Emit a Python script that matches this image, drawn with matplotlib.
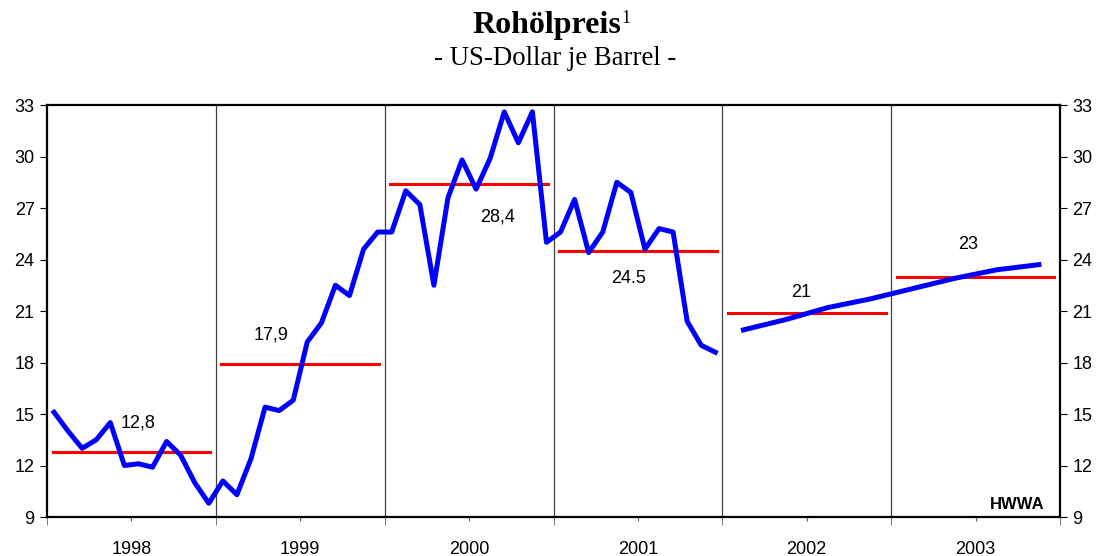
import numpy as np
import matplotlib
matplotlib.use("Agg")
import matplotlib.pyplot as plt

# monthly crude oil price, USD per barrel
years = ["1998", "1999", "2000", "2001", "2002", "2003"]
oil_1998 = [15.1, 14.0, 13.0, 13.5, 14.5, 12.0, 12.1, 11.9, 13.4, 12.6, 11.0, 9.8]
oil_1999 = [11.1, 10.3, 12.4, 15.4, 15.2, 15.8, 19.2, 20.3, 22.5, 21.9, 24.6, 25.6]
oil_2000 = [25.6, 28.0, 27.2, 22.5, 27.6, 29.8, 28.1, 29.9, 32.6, 30.8, 32.6, 25.0]
oil_2001 = [25.6, 27.5, 24.4, 25.6, 28.5, 27.9, 24.6, 25.8, 25.6, 20.4, 19.0, 18.6]
# forecast, one point per quarter (mid-quarter month), 2002-2003
forecast_month = [49, 52, 55, 58, 61, 64, 67, 70]
forecast = [19.9, 20.5, 21.2, 21.7, 22.3, 22.9, 23.4, 23.7]

# yearly averages
avg_values = [12.8, 17.9, 28.4, 24.5, 20.9, 23.0]
avg_labels = ["12,8", "17,9", "28,4", "24.5", "21", "23"]
label_pos = [(6.5, 14.5), (15.9, 19.6), (32.0, 26.5), (41.3, 22.9), (53.6, 22.1), (65.5, 24.9)]

plt.rcParams['font.family'] = ['Liberation Sans', 'DejaVu Sans']

fig = plt.figure(figsize=(11.01, 5.56), dpi=100)
ax = fig.add_axes([47 / 1101, 39 / 556, 1013 / 1101, 412 / 556])

hist = oil_1998 + oil_1999 + oil_2000 + oil_2001
xm = np.arange(len(hist)) + 0.5
ax.plot(xm, hist, color='#0000FF', lw=3.6, zorder=3)
ax.plot(np.array(forecast_month) + 0.5, forecast, color='#0000FF', lw=3.6, zorder=3)

for i, v in enumerate(avg_values):
    ax.plot([i * 12 + 0.4, i * 12 + 11.6], [v, v], color='#FF0000', lw=2.2, zorder=2)
    ax.text(label_pos[i][0], label_pos[i][1], avg_labels[i], fontsize=13,
            ha='center', va='center')

for b in range(12, 72, 12):
    ax.axvline(b, color='#404040', lw=0.9, zorder=1)

ax.set_xlim(0, 72)
ax.set_ylim(9, 33)
ax.set_yticks(range(9, 34, 3))
ax.set_xticks(np.arange(6, 72, 12))
ax.set_xticklabels(years)
ax.set_xticks(range(0, 73, 12), minor=True)
ax.tick_params(axis='x', which='major', length=3, color='#606060', labelsize=13, pad=14)
ax.tick_params(axis='x', which='minor', length=6, color='#606060')
ax.tick_params(axis='y', length=5, labelsize=13, left=True, right=True,
               labelleft=True, labelright=True, pad=4)
for s in ax.spines.values():
    s.set_linewidth(1.6)

ax.text(0.985, 0.012, "HWWA", transform=ax.transAxes, ha='right', va='bottom',
        fontsize=12, fontweight='bold')

title = fig.text(0.4965, 1 - 33 / 556, "Rohölpreis", ha='center', va='baseline',
                 fontsize=23, fontweight='bold', family='Liberation Serif')
fig.text(0.504, 1 - 65 / 556, "- US-Dollar je Barrel -", ha='center', va='baseline',
         fontsize=19.3, family='Liberation Serif')
fig.canvas.draw()
bb = title.get_window_extent().transformed(fig.transFigure.inverted())
fig.text(bb.x1, 1 - 23 / 556, "1", ha='left', va='baseline',
         fontsize=13, family='Liberation Serif')

fig.savefig("out.png", dpi=100)
